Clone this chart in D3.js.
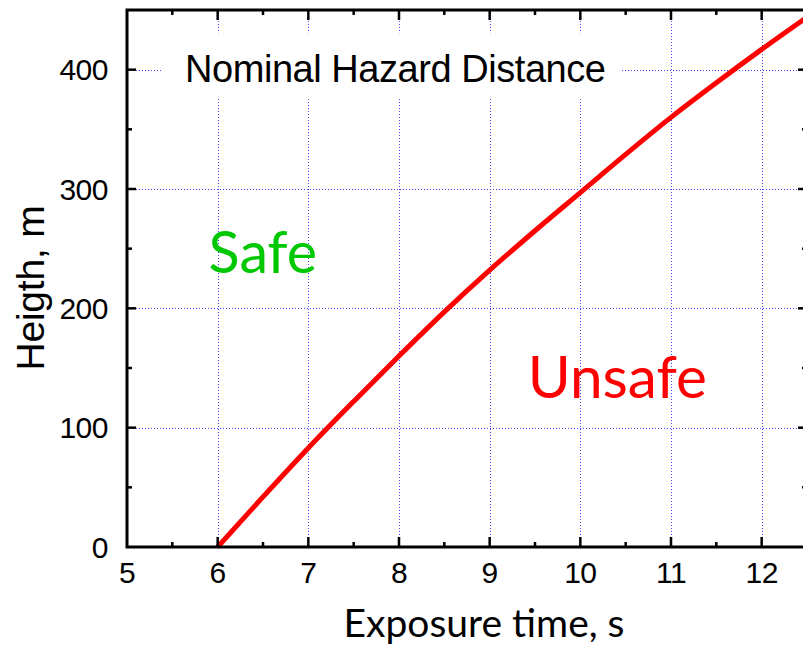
<!DOCTYPE html>
<html>
<head>
<meta charset="utf-8">
<script src="https://cdn.jsdelivr.net/npm/d3@7"></script>
<style>
  html, body { margin: 0; padding: 0; background: #fff; }
  svg { display: block; }
</style>
</head>
<body>
<svg id="chart" width="803" height="647"></svg>
<script>
// Exposure time (s) versus the height (m) of the nominal hazard boundary
const exposureTime = [6, 6.5, 7, 7.5, 8, 8.5, 9, 9.5, 10, 10.5, 11, 11.5, 12, 12.5];
const heightValues = [0, 42, 83, 122, 160, 197, 232, 265, 297, 329, 360, 389, 417, 444];

const xMajorTicks = [5, 6, 7, 8, 9, 10, 11, 12];
const xMinorTicks = [5.5, 6.5, 7.5, 8.5, 9.5, 10.5, 11.5, 12.5];
const yMajorTicks = [0, 100, 200, 300, 400];
const yMinorTicks = [50, 150, 250, 350];

const svg = d3.select("#chart");
const plotL = 127, plotR = 807, plotT = 10, plotB = 547;

const x = d3.scaleLinear().domain([5, 12.5]).range([plotL, plotR]);
const y = d3.scaleLinear().domain([0, 450]).range([plotB, plotT]);

const sans = "'Liberation Sans', Arial, Helvetica, sans-serif";
const humanist = "Lato, 'Open Sans', sans-serif";

// dotted grid
const grid = svg.append("g").attr("stroke", "#4747ff").attr("stroke-width", 1)
  .attr("stroke-dasharray", "1,2");
grid.selectAll("line.v").data(xMajorTicks.filter(d => d > 5)).join("line")
  .attr("class", "v")
  .attr("x1", d => Math.round(x(d)) + 0.5).attr("x2", d => Math.round(x(d)) + 0.5)
  .attr("y1", plotB).attr("y2", plotT);
grid.selectAll("line.h").data(yMajorTicks.filter(d => d > 0)).join("line")
  .attr("class", "h")
  .attr("y1", d => Math.round(y(d)) + 0.5).attr("y2", d => Math.round(y(d)) + 0.5)
  .attr("x1", plotL).attr("x2", plotR);

// title box (white backing hides the grid behind it)
const title = svg.append("g");
title.append("rect")
  .attr("x", x(5.385)).attr("y", y(430.5))
  .attr("width", x(10.46) - x(5.385)).attr("height", y(375.5) - y(430.5))
  .attr("fill", "#fff");
title.append("text")
  .attr("x", x(5.64)).attr("y", y(390))
  .attr("font-family", sans).attr("font-size", 38)
  .attr("letter-spacing", -0.45)
  .attr("fill", "#000")
  .text("Nominal Hazard Distance");

// region labels
svg.append("text")
  .attr("x", x(5.9)).attr("y", y(230))
  .attr("font-family", humanist).attr("font-size", 57.5)
  .attr("fill", "#00c800")
  .text("Safe");
svg.append("text")
  .attr("x", x(9.42)).attr("y", y(124.5))
  .attr("font-family", humanist).attr("font-size", 58.5)
  .attr("fill", "#ff0000")
  .text("Unsafe");

// boundary curve
const line = d3.line()
  .x((d, i) => x(exposureTime[i]))
  .y(d => y(d))
  .curve(d3.curveMonotoneX);
svg.append("path")
  .datum(heightValues)
  .attr("d", line)
  .attr("fill", "none")
  .attr("stroke", "#ff0000")
  .attr("stroke-width", 5)
  .attr("stroke-linecap", "butt");

// frame
svg.append("rect")
  .attr("x", plotL).attr("y", plotT)
  .attr("width", plotR - plotL).attr("height", plotB - plotT)
  .attr("fill", "none").attr("stroke", "#000").attr("stroke-width", 3);

// tick marks pointing inward on all four sides
const ticks = svg.append("g").attr("stroke", "#000").attr("stroke-width", 2.5);
function xTicks(vals, len) {
  ticks.selectAll(null).data(vals).join("line")
    .attr("x1", d => x(d)).attr("x2", d => x(d))
    .attr("y1", plotB).attr("y2", plotB - len);
  ticks.selectAll(null).data(vals).join("line")
    .attr("x1", d => x(d)).attr("x2", d => x(d))
    .attr("y1", plotT).attr("y2", plotT + len);
}
function yTicks(vals, len) {
  ticks.selectAll(null).data(vals).join("line")
    .attr("y1", d => y(d)).attr("y2", d => y(d))
    .attr("x1", plotL).attr("x2", plotL + len);
  ticks.selectAll(null).data(vals).join("line")
    .attr("y1", d => y(d)).attr("y2", d => y(d))
    .attr("x1", plotR).attr("x2", plotR - len);
}
xTicks(xMajorTicks.filter(d => d > 5), 10);
xTicks(xMinorTicks, 5);
yTicks(yMajorTicks.filter(d => d > 0), 9);
yTicks(yMinorTicks, 5);

// tick labels
svg.append("g").selectAll("text").data(xMajorTicks).join("text")
  .attr("x", d => x(d)).attr("y", plotB + 36)
  .attr("text-anchor", "middle")
  .attr("font-family", sans).attr("font-size", 30)
  .attr("letter-spacing", -0.5)
  .text(d => d);
svg.append("g").selectAll("text").data(yMajorTicks).join("text")
  .attr("x", plotL - 19).attr("y", d => y(d) + 10.5)
  .attr("text-anchor", "end")
  .attr("font-family", sans).attr("font-size", 30)
  .attr("letter-spacing", -0.5)
  .text(d => d);

// axis titles
svg.append("text")
  .attr("x", 484).attr("y", 637)
  .attr("text-anchor", "middle")
  .attr("font-family", humanist).attr("font-size", 39)
  .text("Exposure time, s");
svg.append("text")
  .attr("transform", "translate(44,288) rotate(-90)")
  .attr("text-anchor", "middle")
  .attr("font-family", sans).attr("font-size", 39)
  .attr("letter-spacing", -0.2)
  .text("Heigth, m");
</script>
</body>
</html>
